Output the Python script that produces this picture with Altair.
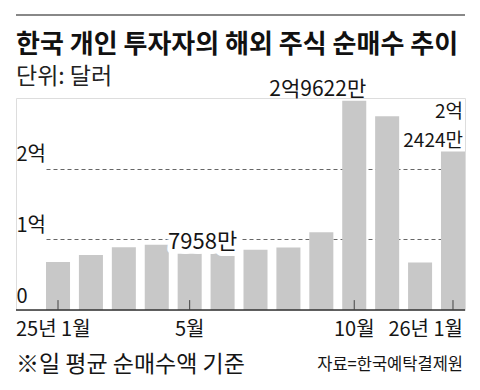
import altair as alt
import pandas as pd

# ---- data (values in 억 달러 units: 1 = 1억 달러) ----
months = ["2025-01", "2025-02", "2025-03", "2025-04", "2025-05", "2025-06",
          "2025-07", "2025-08", "2025-09", "2025-10", "2025-11", "2025-12", "2026-01"]
values_eok = [0.681, 0.780, 0.889, 0.922, 0.7958, 0.799,
              0.851, 0.884, 1.102, 2.9622, 2.742, 0.671, 2.2424]

tick_months = ["2025-01", "2025-05", "2025-10", "2026-01"]
tick_labels = ["25년 1월", "5월", "10월", "26년 1월"]

annot_months = ["2025-05", "2025-10", "2026-01"]
annot_texts = ["7958만", "2억9622만", "2억\n2424만"]

y_ticks = [0, 1, 2]

title_text = "한국 개인 투자자의 해외 주식 순매수 추이"
subtitle_text = "단위: 달러"
note_text = "※일 평균 순매수액 기준"
source_text = "자료=한국예탁결제원"

KR = "Noto Sans CJK KR"
NUM = "Liberation Sans Narrow, Noto Sans CJK KR, sans-serif"
INK = "#151515"

W, H = 449, 212

df = pd.DataFrame({"month": months, "value": values_eok})
ticks_df = pd.DataFrame({"month": tick_months, "label": tick_labels})
annot_df = pd.DataFrame({"month": annot_months, "label": annot_texts})

xscale = alt.Scale(domain=months, range=[30, W], paddingInner=0.27, paddingOuter=0)
yscale = alt.Scale(domain=[0, 3], nice=False)

x_enc = alt.X("month:N", scale=xscale, axis=None)

bars = alt.Chart(df).mark_bar(color="#c8c8c8").encode(
    x=x_enc,
    y=alt.Y("value:Q", scale=yscale, title=None,
            axis=alt.Axis(values=y_ticks, domain=False, ticks=False,
                          labelExpr="datum.value == 0 ? '0' : datum.value + '억'",
                          labelAlign="left", labelBaseline="bottom",
                          labelPadding=0, labelOffset=-4,
                          labelFont=NUM, labelFontSize=20, labelColor=INK,
                          grid=True, gridColor="#666", gridDash=[4, 3], gridWidth=1,
                          gridOpacity={"condition": {"test": "datum.value === 0", "value": 0}, "value": 1})),
)

baseline = alt.Chart(pd.DataFrame({"v": [0]})).mark_rule(color="#333", strokeWidth=1.5).encode(
    y=alt.datum(0)
)

tick_rules = alt.Chart(ticks_df).mark_rule(color="#444", strokeWidth=1).encode(
    x=x_enc, y=alt.datum(0), y2=alt.datum(0.14)
)

def xlabel(month_list, align, dx):
    return alt.Chart(ticks_df).transform_filter(
        alt.FieldOneOfPredicate(field="month", oneOf=month_list)
    ).mark_text(align=align, dx=dx, baseline="alphabetic", font=NUM, fontSize=20, color=INK).encode(
        x=x_enc, y=alt.value(238), text="label:N"
    )

xl_first = xlabel([tick_months[0]], "left", -42)
xl_mid = xlabel(tick_months[1:3], "center", 0)
xl_last = xlabel([tick_months[-1]], "right", 10)

def annot(month, align, dx, dy, size, lh=29, halo=False):
    return alt.Chart(annot_df).transform_filter(
        alt.FieldEqualPredicate(field="month", equal=month)
    ).transform_lookup(
        lookup="month", from_=alt.LookupData(df, "month", ["value"])
    ).mark_text(align=align, dx=dx, dy=dy, baseline="bottom", font=NUM, fontSize=size,
                color=INK, lineBreak="\n", lineHeight=lh,
                **({"stroke": "white", "strokeWidth": 10, "strokeJoin": "round"} if halo else {})).encode(
        x=x_enc, y=alt.Y("value:Q", scale=yscale), text="label:N"
    )

a1_halo = annot(annot_months[0], "center", 13, 0, 22, halo=True)
a1 = annot(annot_months[0], "center", 13, 0, 22)
a2 = annot(annot_months[1], "right", 12, -1, 21)
a3 = annot(annot_months[2], "right", 10, -30, 19, lh=29)

top_line = alt.Chart(pd.DataFrame({"v": [0]})).mark_rule(color="#888", strokeWidth=2).encode(
    y=alt.value(-83)
)

title = alt.Chart(pd.DataFrame({"t": [title_text]})).mark_text(
    align="left", baseline="alphabetic", font=KR, fontSize=26, fontWeight="bold", color="#111"
).encode(x=alt.value(0), y=alt.value(-45), text="t:N")

subtitle = alt.Chart(pd.DataFrame({"t": [subtitle_text]})).mark_text(
    align="left", baseline="alphabetic", font=KR, fontSize=23, color="#222"
).encode(x=alt.value(0), y=alt.value(-14), text="t:N")

note = alt.Chart(pd.DataFrame({"t": [note_text]})).mark_text(
    align="left", baseline="alphabetic", font=KR, fontSize=23, color=INK
).encode(x=alt.value(0), y=alt.value(274), text="t:N")

source = alt.Chart(pd.DataFrame({"t": [source_text]})).mark_text(
    align="right", baseline="alphabetic", font=KR, fontSize=16.5, color=INK
).encode(x=alt.value(W - 2), y=alt.value(272), text="t:N")

chart = alt.layer(
    bars, baseline, tick_rules, a1_halo, a1, a2, a3,
    xl_first, xl_mid, xl_last, top_line, title, subtitle, note, source
).properties(
    width=W, height=H,
    autosize=alt.AutoSizeParams(type="none"),
    padding={"left": 8, "top": 90, "right": 7, "bottom": 72},
).configure_view(stroke=None).configure(background="white")

chart.save("out.html", embed_options={"renderer": "svg", "actions": False})
